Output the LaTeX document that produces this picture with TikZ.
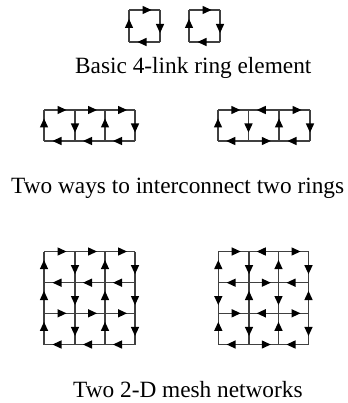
\documentclass[tikz,border=0pt]{standalone}
\usepackage{fontspec}
\setmainfont{Liberation Serif}
\usetikzlibrary{decorations.markings}
\begin{document}
\begin{tikzpicture}[x=1pt,y=-1pt,
  lnk/.style={draw=black!75,line width=1.2pt,
    postaction={decorate,decoration={markings,
      mark=at position 0.5 with {\fill[black] (-2pt,4.2pt) -- (7pt,0pt) -- (-2pt,-4.2pt) -- cycle;}}}},
  captxt/.style={anchor=base west,inner sep=0pt,font=\fontsize{23.3}{28}\selectfont}]
\useasboundingbox (0,0) rectangle (347,403);
% coordinates
\foreach \i/\x in {0/129,1/160} \foreach \j/\y in {0/10,1/42} \coordinate (P-\i-\j) at (\x,\y);
\foreach \i/\x in {0/189,1/220} \foreach \j/\y in {0/10,1/42} \coordinate (Q-\i-\j) at (\x,\y);
\foreach \i/\x in {0/44,1/75,2/105,3/135} \foreach \j/\y in {0/110,1/141} \coordinate (R-\i-\j) at (\x,\y);
\foreach \i/\x in {0/218,1/248.5,2/279,3/310} \foreach \j/\y in {0/110,1/141} \coordinate (S-\i-\j) at (\x,\y);
\foreach \i/\x in {0/44,1/75,2/105,3/135} \foreach \j/\y in {0/251.5,1/282.7,2/313.3,3/344.5} \coordinate (T-\i-\j) at (\x,\y);
\foreach \i/\x in {0/218.3,1/249,2/278.5,3/308.5} \foreach \j/\y in {0/251.5,1/282.7,2/313.3,3/344.5} \coordinate (U-\i-\j) at (\x,\y);
% ring elements
\foreach \a/\b in {P-0-0/P-1-0,P-1-0/P-1-1,P-1-1/P-0-1,P-0-1/P-0-0,
                   Q-0-0/Q-1-0,Q-1-0/Q-1-1,Q-1-1/Q-0-1,Q-0-1/Q-0-0}
  \draw[lnk] (\a) -- (\b);
% two rings
\foreach \a/\b in {R-0-0/R-1-0,R-1-0/R-2-0,R-2-0/R-3-0,
                   R-0-1/R-0-0,R-1-0/R-1-1,R-2-1/R-2-0,R-3-0/R-3-1,
                   R-1-1/R-0-1,R-2-1/R-1-1,R-3-1/R-2-1}
  \draw[lnk] (\a) -- (\b);
\foreach \a/\b in {S-0-0/S-1-0,S-2-0/S-1-0,S-2-0/S-3-0,
                   S-0-1/S-0-0,S-1-0/S-1-1,S-2-1/S-2-0,S-3-0/S-3-1,
                   S-1-1/S-0-1,S-1-1/S-2-1,S-3-1/S-2-1}
  \draw[lnk] (\a) -- (\b);
% mesh left
\foreach \a/\b in {T-0-0/T-1-0,T-1-0/T-2-0,T-2-0/T-3-0,
                   T-0-1/T-0-0,T-1-0/T-1-1,T-2-1/T-2-0,T-3-0/T-3-1,
                   T-1-1/T-0-1,T-2-1/T-1-1,T-3-1/T-2-1,
                   T-0-2/T-0-1,T-1-1/T-1-2,T-2-2/T-2-1,T-3-1/T-3-2,
                   T-0-2/T-1-2,T-1-2/T-2-2,T-2-2/T-3-2,
                   T-0-3/T-0-2,T-1-2/T-1-3,T-2-3/T-2-2,T-3-2/T-3-3,
                   T-1-3/T-0-3,T-2-3/T-1-3,T-3-3/T-2-3}
  \draw[lnk] (\a) -- (\b);
% mesh right
\foreach \a/\b in {U-0-0/U-1-0,U-2-0/U-1-0,U-2-0/U-3-0,
                   U-0-1/U-0-0,U-1-0/U-1-1,U-2-1/U-2-0,U-3-0/U-3-1,
                   U-1-1/U-0-1,U-1-1/U-2-1,U-3-1/U-2-1,
                   U-0-1/U-0-2,U-1-2/U-1-1,U-2-1/U-2-2,U-3-2/U-3-1,
                   U-0-2/U-1-2,U-2-2/U-1-2,U-2-2/U-3-2,
                   U-0-3/U-0-2,U-1-2/U-1-3,U-2-3/U-2-2,U-3-2/U-3-3,
                   U-1-3/U-0-3,U-1-3/U-2-3,U-3-3/U-2-3}
  \draw[lnk] (\a) -- (\b);
% captions
\node[captxt] (c1) at (75,74) {Basic 4-link ring element};
\node[captxt] (c2) at (11,193) {Two ways to interconnect two rings};
\node[captxt] (c3) at (73,397) {Two 2-D mesh networks};
\end{tikzpicture}
\end{document}
